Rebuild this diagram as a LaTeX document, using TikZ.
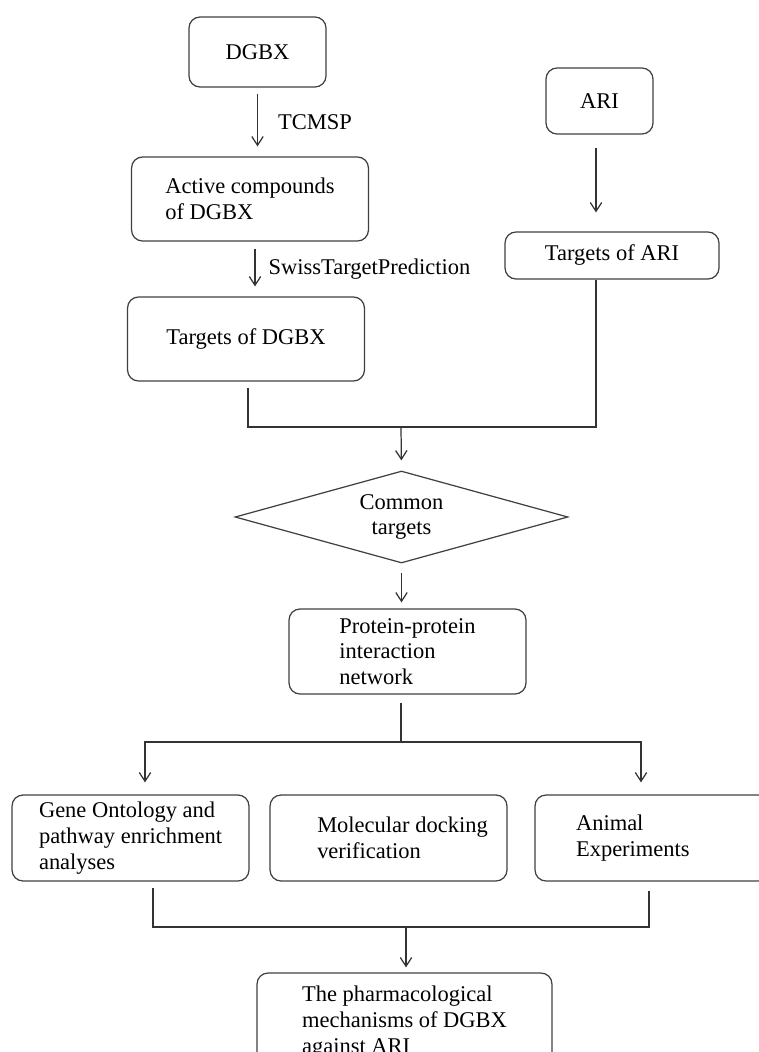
\documentclass[tikz,border=0pt]{standalone}
\usepackage{fontspec}
\setmainfont{Liberation Serif}
\usetikzlibrary{shapes.geometric, arrows.meta, positioning, calc}

\begin{document}
\begin{tikzpicture}[
        x=0.02cm, y=-0.02cm,
        proc/.style={rectangle, draw=black!75, line width=0.7pt, rounded corners=0.22cm, align=left, font=\fontsize{12.8}{14.6}\selectfont, minimum width=4.74cm, minimum height=1.7cm, inner sep=2pt},
        choice/.style={diamond, draw=black!75, line width=0.7pt, aspect=3.6, align=center, font=\fontsize{12.8}{14.6}\selectfont, minimum width=6.66cm, minimum height=1.84cm, inner sep=1pt},
        flow/.style={-{Straight Barb[length=5pt, width=6.5pt]}, draw=black!80, line width=0.7pt},
        link/.style={draw=black!80, line width=0.7pt},
        tag/.style={font=\fontsize{12.8}{14.6}\selectfont, inner sep=0pt}
    ]
        \useasboundingbox (0,0) rectangle (759,1052);
        \clip (0,0) rectangle (759,1052);

        % left column
        \node[proc, minimum width=2.74cm, minimum height=1.4cm] (dgbx) at (257.5,52) {DGBX};
        \node[proc, minimum height=1.68cm] (active) at (250,199) {Active compounds\\of DGBX};
        \node[proc, minimum height=1.68cm] (tdgbx) at (246,339) {Targets of DGBX};
        % right column
        \node[proc, minimum width=2.14cm, minimum height=1.32cm] (ari) at (599.5,101) {ARI};
        \node[proc, minimum width=4.28cm, minimum height=0.94cm] (tari) at (612,255.5) {Targets of ARI};
        % middle
        \node[choice] (common) at (401.5,517) {Common\\targets};
        \node[proc] (ppi) at (407.5,651.5) {Protein-protein\\interaction\\network};
        % bottom row
        \node[proc, minimum height=1.72cm] (gene) at (130.5,838) {Gene Ontology and\\pathway enrichment\\analyses};
        \node[proc, minimum height=1.72cm] (dock) at (388.5,838) {\hspace*{0.56cm}Molecular docking\\\hspace*{0.56cm}verification};
        \node[proc, minimum height=1.72cm, text width=3.1cm] (animal) at (653.5,838) {Animal\\Experiments};
        \node[proc, minimum width=5.9cm, minimum height=1.96cm] (mech) at (404.5,1022) {The pharmacological\\mechanisms of DGBX\\against ARI};

        \coordinate (join) at (401,427);
        \coordinate (split) at (401,742);
        \coordinate (merge) at (406,927);

        \draw[flow, shorten <=0.12cm, shorten >=0.2cm] (dgbx.south) -- (dgbx.south |- active.north) node[midway, right=0.4cm, tag] {TCMSP};
        \draw[flow, shorten <=0.14cm, shorten >=0.2cm] ([xshift=0.1cm]active.south) -- ([xshift=0.1cm]active.south |- tdgbx.north) node[midway, right=0.26cm, tag] {SwissTargetPrediction};
        \draw[flow, shorten <=0.26cm, shorten >=0.38cm] ([xshift=-0.07cm]ari.south) -- ([xshift=-0.07cm]ari.south |- tari.north);

        \draw[link] ([xshift=0.04cm, yshift=-0.12cm]tdgbx.south) |- ([xshift=-0.32cm]tari.south |- join) -- ([xshift=-0.32cm]tari.south);
        \draw[flow, shorten >=0.2cm] (join) -- (common.north);
        \draw[flow, shorten <=0.18cm, shorten >=0.12cm] (common.south) -- (common.south |- ppi.north);

        \draw[link, shorten <=0.16cm] (split |- ppi.south) -- (split);
        \draw[flow, shorten >=0.24cm] (split) -| ([xshift=0.29cm]gene.north);
        \draw[flow, shorten >=0.24cm] (split) -| ([xshift=-0.25cm]animal.north);

        \draw[link] ([xshift=0.45cm, yshift=-0.12cm]gene.south) |- (merge) -| ([xshift=-0.09cm, yshift=-0.18cm]animal.south);
        \draw[flow, shorten >=0.1cm] (merge) -- (merge |- mech.north);
\end{tikzpicture}
\end{document}
